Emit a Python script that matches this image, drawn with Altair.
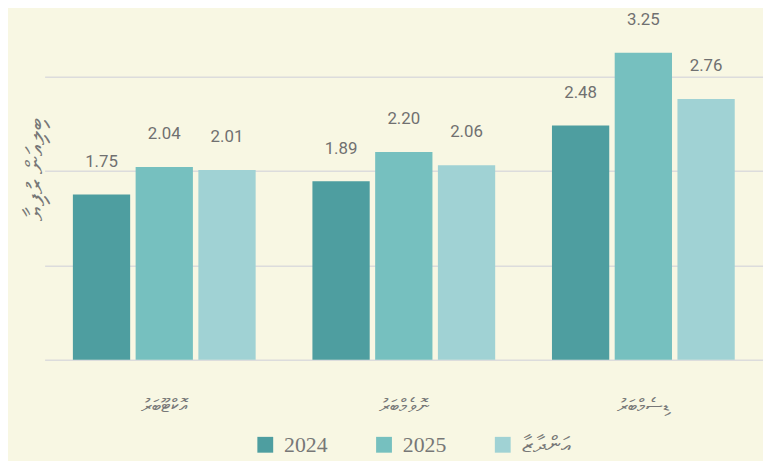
import altair as alt
import pandas as pd

months = ["އޮކްޓޫބަރު", "ނޮވެމްބަރު", "ޑިސެމްބަރު"]
series = ["2024", "2025", "އަންދާޒާ"]
values_2024 = [1.75, 1.89, 2.48]
values_2025 = [2.04, 2.20, 3.25]
values_est = [2.01, 2.06, 2.76]
colors = ["#4E9EA0", "#76C0BF", "#A0D2D4"]
y_title = "ބިލިއަން ރުފިޔާ"

rows = []
for s, vals in zip(series, [values_2024, values_2025, values_est]):
    for m, v in zip(months, vals):
        rows.append({"month": m, "series": s, "value": v})
df = pd.DataFrame(rows)

x_enc = alt.X(
    "month:N",
    sort=months,
    scale=alt.Scale(paddingInner=0.237, paddingOuter=0.118),
    axis=alt.Axis(
        title=None, domain=False, ticks=False, labelAngle=0,
        labelPadding=37, labelFontSize=19, labelColor="#777777",
    ),
)
xoff_enc = alt.XOffset("series:N", sort=series,
                       scale=alt.Scale(paddingInner=0.087, paddingOuter=0))
y_enc = alt.Y(
    "value:Q",
    scale=alt.Scale(domain=[0, 3.7], nice=False),
    axis=alt.Axis(
        title=y_title, values=[0, 1, 2, 3], labels=False, ticks=False,
        domain=False, grid=True, gridColor="#DCDCDC", gridWidth=1.5,
        titleColor="#777777", titleFontSize=25, titleFontWeight="normal",
        titleX=-9, titleY=160, titleAlign="center", titleBaseline="middle",
        titleAngle=270,
    ),
)

bars = alt.Chart(df).mark_bar().encode(
    x=x_enc,
    xOffset=xoff_enc,
    y=y_enc,
    color=alt.Color(
        "series:N", sort=series,
        scale=alt.Scale(domain=series, range=colors),
        legend=alt.Legend(
            title=None, orient="none", legendX=212, legendY=428,
            direction="horizontal", symbolType="square", symbolSize=256,
            symbolStrokeWidth=0,
            labelFontSize=22, labelColor="#777777", columnPadding=46,
            labelOffset=8, labelLimit=200,
        ),
    ),
)

labels = alt.Chart(df).mark_text(
    baseline="middle", dy=-33, fontSize=17,
    font="Roboto",
    color="#707070",
).encode(
    x=alt.X("month:N", sort=months),
    xOffset=alt.XOffset("series:N", sort=series),
    y="value:Q",
    text=alt.Text("value:Q", format=".2f"),
)

chart = alt.layer(bars, labels).properties(
    width=726, height=353,
    padding={"left": 37, "top": 0, "right": 0, "bottom": 100},
    autosize=alt.AutoSizeParams(type="none"),
    background="#F8F7E3",
).configure(font="Liberation Serif").configure_view(stroke=None)

chart.save("out.html", embed_options={"renderer": "svg", "actions": False})
